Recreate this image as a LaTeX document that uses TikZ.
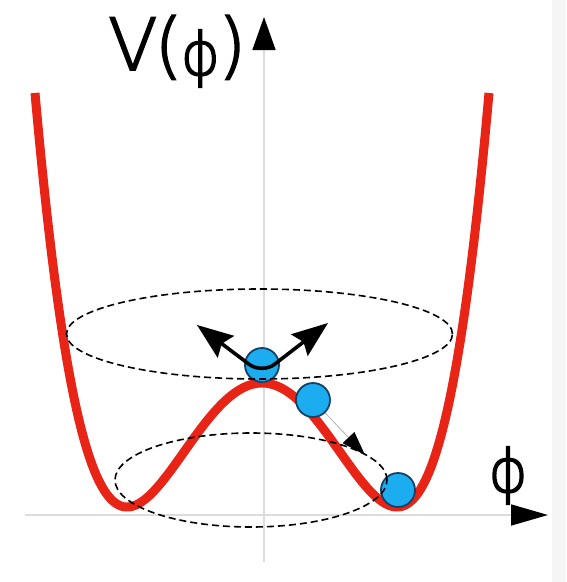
\documentclass[tikz,border=0pt]{standalone}
\usepackage{fontspec}
\setmainfont{DejaVu Sans}
\newfontfamily\lbfont{DejaVu Sans ExtraLight}[FakeBold=2.5]
\usetikzlibrary{arrows.meta,shapes.geometric}
\definecolor{potred}{RGB}{232,36,22}
\definecolor{ballblue}{RGB}{28,172,240}
\definecolor{ballline}{RGB}{18,65,105}
\definecolor{axisgray}{RGB}{220,220,220}
\newcommand{\smallphi}{{\fontsize{60}{60}\selectfont\raisebox{-5pt}{ϕ}}}
\begin{document}
\begin{tikzpicture}[x=1pt,y=-1pt,
  axis/.style={draw=axisgray, line width=1.6pt},
  pot/.style={draw=potred, line width=9pt, line join=round, line cap=butt},
  ball/.style={circle, fill=ballblue, draw=ballline, line width=1.8pt, minimum size=34pt, inner sep=0pt},
  orbit/.style={ellipse, draw=black, line width=1.6pt, dash pattern=on 7pt off 4pt, inner sep=0pt},
  kick/.style={line width=3.6pt, black, rounded corners=16pt,
     {Stealth[length=36pt,width=27pt,inset=5pt]}-{Stealth[length=36pt,width=27pt,inset=5pt]}},
  lbl/.style={inner sep=0pt, anchor=base west, font=\lbfont\fontsize{72}{72}\selectfont}
]
\useasboundingbox (0,0) rectangle (566,582);
\fill[white] (0,0) rectangle (566,582);
\fill[black!4] (552,0) rectangle (566,582);
% axes
\coordinate (yb) at (264,562);
\coordinate (yt) at (264,17);
\coordinate (xl) at (25,515);
\coordinate (xr) at (548,515);
\draw[axis, -{Triangle[length=33pt,width=23pt,black]}] (yb) -- (yt);
\draw[axis, -{Triangle[length=37pt,width=21pt,black]}] (xl) -- (xr);
% potential
\draw[pot] plot[domain=35:489, samples=240, smooth] (\x, {507-124*(((\x-262)/135)^2-1)^2});
% balls
\node[ball] (b1) at (262,365) {};
\node[ball] (b2) at (313,400) {};
\node[ball] (b3) at (398,490) {};
% orbits
\node[orbit, minimum width=386pt, minimum height=90pt] (e1) at (259.5,334) {};
\node[orbit, minimum width=272pt, minimum height=94pt] (e2) at (251,480) {};
% arrows
\coordinate (la) at (197,325);
\coordinate (ra) at (328,323);
\coordinate (kb) at (262,374);
\draw[kick] (la) -- (kb) -- (ra);
\coordinate (m) at (365,455);
\draw[line width=0.8pt, black!30, -{Triangle[length=24pt,width=16pt,black]}] (b2) -- (m);
% labels
\node[lbl] (vl) at (108,70) {V\kern-3pt(\kern-2pt\smallphi\kern-2pt)};
\node[lbl] (pl) at (488,492) {\fontsize{60}{60}\selectfont ϕ};
\end{tikzpicture}
\end{document}
